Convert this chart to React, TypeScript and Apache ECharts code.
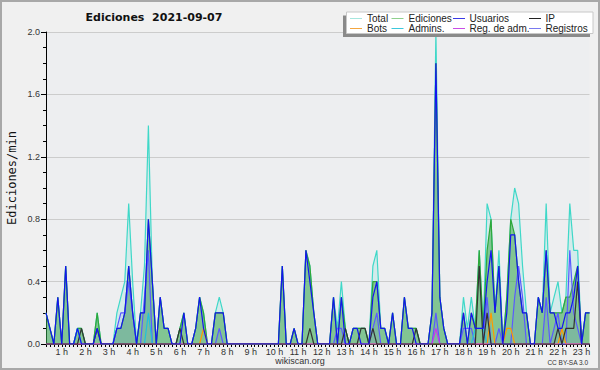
import React, { useEffect, useRef } from "react";
import * as echarts from "echarts";

// one sample every 10 minutes, first sample at 00:20
const START_MINUTE = 20;
const STEP_MINUTES = 10;

const totalData = [
  0.2, 0.1, 0, 0.3, 0, 0.5, 0, 0, 0.1, 0.1,
  0, 0, 0, 0.2, 0, 0, 0, 0, 0.2, 0.3,
  0.4, 0.9, 0.4, 0, 0.2, 0.5, 1.4, 0.4, 0, 0.3,
  0.1, 0.1, 0, 0, 0.1, 0.2, 0, 0, 0.1, 0.3,
  0.2, 0, 0, 0.2, 0.3, 0.2, 0, 0, 0, 0,
  0, 0, 0, 0, 0, 0, 0, 0, 0, 0,
  0.5, 0, 0, 0.1, 0, 0, 0.6, 0.5, 0.2, 0,
  0, 0, 0, 0.3, 0.1, 0.4, 0.1, 0, 0.1, 0.1,
  0.1, 0.1, 0, 0.5, 0.6, 0.1, 0.1, 0, 0.2, 0,
  0, 0.3, 0.1, 0.1, 0.1, 0, 0, 0, 0.2, 2.0,
  0.3, 0.1, 0, 0, 0, 0, 0.3, 0.1, 0.3, 0.1,
  0.6, 0.1, 0.9, 0.8, 0.2, 0.6, 0, 0.3, 0.8, 1.0,
  0.9, 0.5, 0.2, 0, 0, 0.3, 0.2, 0.9, 0.2, 0.3,
  0.4, 0.2, 0.3, 0.9, 0.6, 0.6, 0, 0.2, 0.2,
];

const edicionesData = [
  0.2, 0.1, 0, 0.3, 0, 0.5, 0, 0, 0.1, 0.1,
  0, 0, 0, 0.2, 0, 0, 0, 0, 0.1, 0.1,
  0.2, 0.5, 0.2, 0, 0.2, 0.2, 0.8, 0.4, 0, 0.3,
  0.1, 0.1, 0, 0, 0.1, 0.2, 0, 0, 0.1, 0.3,
  0.2, 0, 0, 0.2, 0.2, 0.2, 0, 0, 0, 0,
  0, 0, 0, 0, 0, 0, 0, 0, 0, 0,
  0.5, 0, 0, 0.1, 0, 0, 0.6, 0.5, 0.2, 0,
  0, 0, 0, 0.3, 0, 0.3, 0.1, 0, 0.1, 0.1,
  0.1, 0.1, 0, 0.4, 0.4, 0.1, 0.1, 0, 0.2, 0,
  0, 0.3, 0.1, 0.1, 0.1, 0, 0, 0, 0.2, 1.8,
  0.3, 0.1, 0, 0, 0, 0, 0.2, 0, 0.2, 0.1,
  0.6, 0.1, 0.6, 0.8, 0.2, 0.5, 0, 0.3, 0.8, 0.7,
  0.4, 0.2, 0.2, 0, 0, 0.3, 0.2, 0.6, 0.2, 0.2,
  0.2, 0.2, 0.3, 0.3, 0.4, 0.5, 0, 0.2, 0.2,
];

const usuariosData = [
  0.2, 0.1, 0, 0.3, 0, 0.5, 0, 0, 0.1, 0,
  0, 0, 0, 0.1, 0, 0, 0, 0, 0.1, 0.1,
  0.2, 0.5, 0.2, 0, 0.2, 0.2, 0.8, 0.4, 0, 0.3,
  0.1, 0.1, 0, 0, 0, 0.2, 0, 0, 0.1, 0.3,
  0.1, 0, 0, 0.2, 0.2, 0.2, 0, 0, 0, 0,
  0, 0, 0, 0, 0, 0, 0, 0, 0, 0,
  0.5, 0, 0, 0.1, 0, 0, 0.6, 0.4, 0.2, 0,
  0, 0, 0, 0.3, 0, 0.3, 0, 0, 0.1, 0.1,
  0, 0, 0, 0.3, 0.4, 0.1, 0.1, 0, 0.2, 0,
  0, 0.3, 0.1, 0.1, 0, 0, 0, 0, 0.2, 1.8,
  0.3, 0.1, 0, 0, 0, 0, 0.2, 0, 0.2, 0.1,
  0.1, 0.1, 0.4, 0.6, 0.2, 0.5, 0, 0.2, 0.7, 0.7,
  0.4, 0.2, 0.2, 0, 0, 0.3, 0.2, 0.6, 0.2, 0.2,
  0.1, 0.1, 0.2, 0.2, 0.3, 0.5, 0, 0.2, 0.2,
];

const ipData = [
  0, 0, 0, 0, 0, 0, 0, 0, 0, 0.1,
  0, 0, 0, 0.1, 0, 0, 0, 0, 0, 0,
  0, 0, 0, 0, 0, 0, 0, 0, 0, 0,
  0, 0, 0, 0, 0.1, 0, 0, 0, 0, 0,
  0, 0, 0, 0, 0, 0, 0, 0, 0, 0,
  0, 0, 0, 0, 0, 0, 0, 0, 0, 0,
  0, 0, 0, 0, 0, 0, 0, 0.1, 0, 0,
  0, 0, 0, 0, 0, 0, 0.1, 0, 0, 0,
  0.1, 0.1, 0, 0.1, 0, 0, 0, 0, 0, 0,
  0, 0, 0, 0, 0.1, 0, 0, 0, 0, 0,
  0, 0, 0, 0, 0, 0, 0, 0, 0, 0,
  0.5, 0, 0.2, 0, 0, 0, 0, 0, 0, 0,
  0, 0, 0, 0, 0, 0, 0, 0, 0, 0,
  0.1, 0, 0.1, 0.1, 0.1, 0.4, 0, 0, 0,
];

const botsData = [
  0, 0, 0, 0, 0, 0, 0, 0, 0, 0,
  0, 0, 0, 0, 0, 0, 0, 0, 0, 0,
  0, 0, 0, 0, 0, 0, 0, 0, 0, 0,
  0, 0, 0, 0, 0, 0, 0, 0, 0, 0,
  0.1, 0, 0, 0, 0, 0, 0, 0, 0, 0,
  0, 0, 0, 0, 0, 0, 0, 0, 0, 0,
  0, 0, 0, 0, 0, 0, 0, 0, 0, 0,
  0, 0, 0, 0, 0, 0, 0, 0, 0, 0,
  0, 0, 0, 0, 0, 0, 0, 0, 0, 0,
  0, 0, 0, 0, 0, 0, 0, 0, 0, 0,
  0, 0, 0, 0, 0, 0, 0, 0, 0, 0,
  0, 0, 0, 0.2, 0, 0, 0, 0.1, 0.1, 0,
  0, 0, 0, 0, 0, 0, 0, 0, 0, 0,
  0, 0.1, 0, 0, 0, 0, 0, 0, 0,
];

const adminsData = [
  0, 0, 0, 0, 0, 0, 0, 0, 0.1, 0,
  0, 0, 0, 0, 0, 0, 0, 0, 0, 0,
  0, 0, 0, 0, 0, 0, 0.2, 0, 0, 0,
  0, 0, 0, 0, 0, 0, 0, 0, 0, 0,
  0, 0, 0, 0, 0, 0, 0, 0, 0, 0,
  0, 0, 0, 0, 0, 0, 0, 0, 0, 0,
  0, 0, 0, 0, 0, 0, 0, 0, 0, 0,
  0, 0, 0, 0, 0, 0, 0, 0, 0, 0,
  0, 0, 0, 0, 0, 0, 0, 0, 0, 0,
  0, 0, 0, 0, 0, 0, 0, 0, 0, 0,
  0, 0, 0, 0, 0, 0, 0, 0, 0, 0.1,
  0.1, 0.1, 0, 0, 0, 0, 0, 0, 0, 0,
  0, 0, 0, 0, 0, 0, 0, 0, 0, 0,
  0, 0, 0, 0, 0, 0, 0, 0, 0,
];

const regAdmData = [
  0, 0, 0, 0, 0, 0, 0, 0, 0, 0,
  0, 0, 0, 0, 0, 0, 0, 0, 0, 0,
  0, 0, 0, 0, 0, 0, 0, 0, 0, 0,
  0, 0, 0, 0, 0, 0, 0, 0, 0, 0,
  0, 0, 0, 0, 0, 0, 0, 0, 0, 0,
  0, 0, 0, 0, 0, 0, 0, 0, 0, 0,
  0, 0, 0, 0, 0, 0, 0, 0, 0, 0,
  0, 0, 0, 0, 0, 0, 0, 0, 0, 0,
  0, 0, 0, 0, 0, 0, 0, 0, 0, 0,
  0, 0, 0, 0, 0, 0, 0, 0, 0, 0.1,
  0, 0, 0, 0, 0, 0, 0, 0, 0, 0,
  0, 0, 0, 0, 0, 0, 0, 0, 0, 0,
  0, 0, 0, 0, 0, 0, 0, 0, 0, 0,
  0, 0, 0, 0, 0, 0, 0, 0, 0,
];

const registrosData = [
  0, 0, 0, 0, 0, 0, 0, 0, 0, 0,
  0, 0, 0, 0, 0, 0, 0, 0, 0.1, 0.2,
  0.2, 0.4, 0.2, 0, 0, 0.3, 0.6, 0, 0, 0,
  0, 0, 0, 0, 0, 0, 0, 0, 0, 0,
  0, 0, 0, 0, 0.1, 0, 0, 0, 0, 0,
  0, 0, 0, 0, 0, 0, 0, 0, 0, 0,
  0, 0, 0, 0, 0, 0, 0, 0, 0, 0,
  0, 0, 0, 0, 0.1, 0.1, 0, 0, 0, 0,
  0, 0, 0, 0.1, 0.2, 0, 0, 0, 0, 0,
  0, 0, 0, 0, 0, 0, 0, 0, 0, 0.2,
  0, 0, 0, 0, 0, 0, 0.1, 0.1, 0.1, 0,
  0, 0, 0.3, 0, 0, 0.1, 0, 0, 0, 0.3,
  0.5, 0.3, 0, 0, 0, 0, 0, 0.3, 0, 0.1,
  0.2, 0, 0, 0.6, 0.2, 0.1, 0, 0, 0,
];

const categories = totalData.map((_, i) => {
  const m = START_MINUTE + i * STEP_MINUTES;
  return `${Math.floor(m / 60)}:${String(m % 60).padStart(2, "0")}`;
});

const TITLE = "Ediciones  2021-09-07";
const Y_NAME = "Ediciones/min";
const LEGEND_ROWS = [
  [
    { name: "Total", color: "#a6e6de" },
    { name: "Ediciones", color: "#8ed08e" },
    { name: "Usuarios", color: "#3a3ae6" },
    { name: "IP", color: "#222222" },
  ],
  [
    { name: "Bots", color: "#f4a640" },
    { name: "Admins.", color: "#3cc8dc" },
    { name: "Reg. de adm.", color: "#c84ee6" },
    { name: "Registros", color: "#7a7af0" },
  ],
];

const SANS = '"Liberation Sans", Arial, sans-serif';

export default function App() {
  const ref = useRef<HTMLDivElement>(null);
  useEffect(() => {
    if (!ref.current) return;
    const chart = echarts.init(ref.current, undefined, { renderer: "svg" });

    const line = (name: string, data: number[], color: string, z: number, area?: string) => ({
      type: "line",
      name,
      data,
      symbol: "none",
      z,
      lineStyle: { color, width: 1.2 },
      itemStyle: { color },
      areaStyle: area ? { color: area, opacity: 1 } : undefined,
      emphasis: { disabled: true },
    });

    const colX = [
      { l1: 350, l2: 362, t: 367 },
      { l1: 391.5, l2: 403.5, t: 408.5 },
      { l1: 453, l2: 465, t: 469.5 },
      { l1: 529, l2: 541, t: 545.5 },
    ];
    const rowY = [18.5, 28.5];
    const legendEls: any[] = [
      { type: "rect", z: 100, shape: { x: 343, y: 15.5, width: 247, height: 21.5 }, style: { fill: "#8a8a8a" } },
      { type: "rect", z: 101, shape: { x: 346.5, y: 12, width: 246.5, height: 21.5 }, style: { fill: "#ffffff", stroke: "#c8c8c8", lineWidth: 1 } },
    ];
    LEGEND_ROWS.forEach((row, r) => {
      row.forEach((item, c) => {
        legendEls.push({
          type: "line",
          z: 102,
          shape: { x1: colX[c].l1, y1: rowY[r], x2: colX[c].l2, y2: rowY[r] },
          style: { stroke: item.color, lineWidth: 1 },
        });
        legendEls.push({
          type: "text",
          z: 102,
          x: colX[c].t,
          y: rowY[r],
          style: {
            text: item.name,
            fill: "#222",
            font: `10px ${SANS}`,
            align: "left",
            verticalAlign: "middle",
            textAlign: "left",
            textVerticalAlign: "middle",
          },
        });
      });
    });

    chart.setOption({
      animation: false,
      backgroundColor: "#f0f0f0",
      grid: {
        left: 46,
        right: 10.5,
        top: 32,
        bottom: 26,
        show: true,
        backgroundColor: "#edeef0",
        borderWidth: 0,
      },
      xAxis: {
        type: "category",
        data: categories,
        boundaryGap: false,
        axisLine: { show: true, lineStyle: { color: "#000", width: 1 } },
        axisTick: { show: true, interval: 0, length: 3, lineStyle: { color: "#000", width: 1 } },
        axisLabel: {
          interval: (index: number, value: string) => value.endsWith(":00"),
          formatter: (value: string) => `${parseInt(value, 10)} h`,
          fontSize: 9,
          fontFamily: SANS,
          color: "#333",
          margin: 3,
        },
        splitLine: { show: false },
      },
      yAxis: {
        type: "value",
        min: 0,
        max: 2,
        interval: 0.4,
        axisLine: { show: true, lineStyle: { color: "#000", width: 1 } },
        axisTick: { show: true, length: 5, lineStyle: { color: "#000" } },
        minorTick: { show: true, splitNumber: 4, length: 3, lineStyle: { color: "#000" } },
        axisLabel: {
          formatter: (v: number) => v.toFixed(1),
          fontSize: 9,
          fontFamily: SANS,
          color: "#333",
          margin: 6,
        },
        splitLine: { show: true, lineStyle: { color: "#cccccc", width: 1 } },
      },
      series: [
        line("Total", totalData, "#3fd8c8", 1, "rgba(64,224,208,0.15)"),
        line("Ediciones", edicionesData, "#2ea83a", 2, "rgba(50,160,60,0.5)"),
        line("Registros", registrosData, "#5a5aff", 3, "rgba(90,90,255,0.10)"),
        line("Admins.", adminsData, "#20c0dc", 4),
        line("Bots", botsData, "#ff9900", 5),
        line("Reg. de adm.", regAdmData, "#cc33ee", 6),
        line("IP", ipData, "#333333", 7),
        line("Usuarios", usuariosData, "#1414f0", 8),
      ],
      graphic: [
        { type: "rect", z: 100, shape: { x: 1, y: 1, width: 598, height: 368 }, style: { fill: "none", stroke: "#a8a8a8", lineWidth: 2 } },
        {
          type: "text",
          z: 100,
          x: 154,
          y: 17,
          style: {
            text: TITLE,
            fill: "#111",
            font: 'bold 11px "DejaVu Sans", sans-serif',
            align: "center",
            verticalAlign: "middle",
            textAlign: "center",
            textVerticalAlign: "middle",
          },
        },
        {
          type: "text",
          z: 100,
          x: 12,
          y: 178,
          rotation: Math.PI / 2,
          style: {
            text: Y_NAME,
            fill: "#111",
            font: '12px "DejaVu Sans Mono", monospace',
            align: "center",
            verticalAlign: "middle",
            textAlign: "center",
            textVerticalAlign: "middle",
          },
        },
        {
          type: "text",
          z: 100,
          x: 300,
          y: 361,
          style: {
            text: "wikiscan.org",
            fill: "#333",
            font: `9px ${SANS}`,
            align: "center",
            verticalAlign: "middle",
            textAlign: "center",
            textVerticalAlign: "middle",
          },
        },
        {
          type: "text",
          z: 100,
          x: 588,
          y: 362,
          style: {
            text: "CC BY-SA 3.0",
            fill: "#333",
            font: `6.5px ${SANS}`,
            align: "right",
            verticalAlign: "middle",
            textAlign: "right",
            textVerticalAlign: "middle",
          },
        },
        ...legendEls,
      ],
    });
    return () => chart.dispose();
  }, []);

  return (
    <div
      ref={ref}
      style={{ position: "fixed", left: 0, top: 0, width: 600, height: 370 }}
    />
  );
}
